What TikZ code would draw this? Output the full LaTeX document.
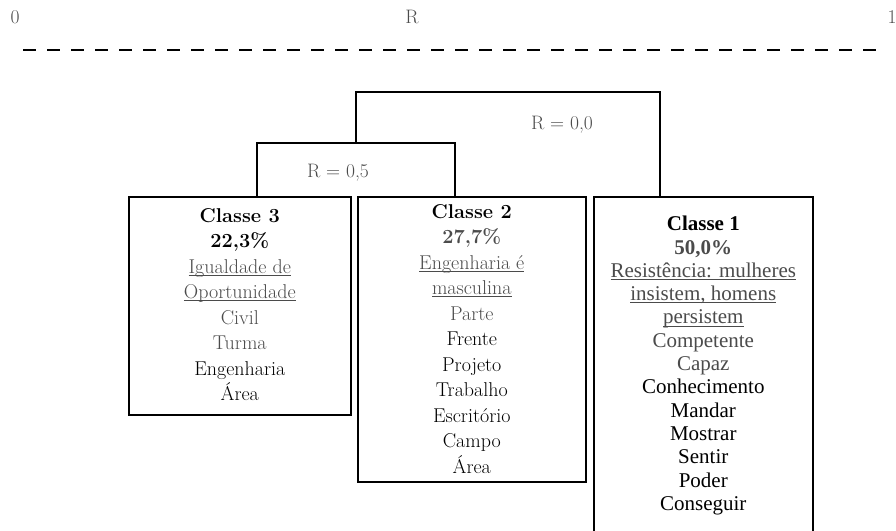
\documentclass[tikz,border=0pt]{standalone}
\usepackage{fontspec}
\newfontfamily\timesfont{Liberation Serif}
\usepackage{tikz}
\definecolor{txtgray}{RGB}{75,75,75}
\newcommand{\gr}[1]{\textcolor{txtgray}{#1}}
\newcommand{\gu}[1]{\textcolor{txtgray}{\setbox0\hbox{#1}\rlap{\rule[-2.6pt]{\wd0}{0.9pt}}\box0}}
\tikzset{
  classbox/.style={draw,line width=1.6pt,anchor=north west,inner sep=0pt},
  link/.style={line width=1.6pt},
  lbl/.style={text=txtgray,inner sep=0pt,font=\fontsize{19.5}{19.5}\selectfont},
  words/.style={anchor=north,align=center,inner sep=0pt,font=\fontsize{20}{25.5}\selectfont},
  wordstimes/.style={anchor=north,align=center,inner sep=0pt,font=\timesfont\fontsize{21}{23.3}\selectfont}
}

\begin{document}
\begin{tikzpicture}[x=1pt,y=-1pt]
\useasboundingbox (0,0) rectangle (896,530);
\node[lbl] (zero) at (15,17) {0};
\node[lbl] (rlab) at (412,17) {R};
\node[lbl] (one) at (892,17) {1};
\draw[line width=2pt,dash pattern=on 13pt off 11pt] (23,50) -- (879,50);

\node[classbox,minimum width=222,minimum height=218] (c3) at (128,196) {};
\node[classbox,minimum width=228,minimum height=285] (c2) at (357,196) {};
\node[classbox,minimum width=219,minimum height=350] (c1) at (593,196) {};

\node[words] (t3) at ([yshift=-12pt]c3.north) {\textbf{Classe 3}\\ \textbf{22,3\%}\\ \gu{Igualdade de}\\ \gu{Oportunidade}\\ \gr{Civil}\\ \gr{Turma}\\ Engenharia\\ Área};
\node[words] (t2) at ([yshift=-8pt]c2.north) {\textbf{Classe 2}\\ \gr{\textbf{27,7\%}}\\ \gu{Engenharia é}\\ \gu{masculina}\\ \gr{Parte}\\ Frente\\ Projeto\\ Trabalho\\ Escritório\\ Campo\\ Área};
\node[wordstimes] (t1) at ([yshift=-20pt]c1.north) {\textbf{Classe 1}\\ \gr{\textbf{50,0\%}}\\ \gu{Resistência: mulheres}\\ \gu{insistem, homens}\\ \gu{persistem}\\ \gr{Competente}\\ \gr{Capaz}\\ Conhecimento\\ Mandar\\ Mostrar\\ Sentir\\ Poder\\ Conseguir};

\coordinate (k2) at (356,143);
\coordinate (k1) at (508,92);
\draw[link] ([xshift=129pt]c3.north west) |- (k2) -| ([xshift=98pt]c2.north west);
\draw[link] (k2) |- (k1) -| ([xshift=67pt]c1.north west);
\node[lbl] (r05) at (338,173) {R = 0,5};
\node[lbl] (r00) at (562,125) {R = 0,0};
\end{tikzpicture}
\end{document}
